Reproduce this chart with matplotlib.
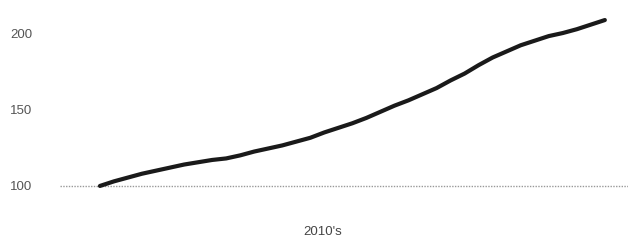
import matplotlib
matplotlib.use("Agg")
import matplotlib.pyplot as plt

# Quarterly index values, 2010 Q1 .. 2019 Q1
years = [2010 + 0.25 * k for k in range(37)]
values = [100, 103, 105.5, 108, 110, 112, 114, 115.5, 117, 118,
          120, 122.5, 124.5, 126.5, 129, 131.5, 135, 138, 141, 144.5,
          148.5, 152.5, 156, 160, 164, 169, 173.5, 179, 184, 188,
          192, 195, 198, 200, 202.5, 205.5, 208.5]
y_ticks = [100, 150, 200]
x_label = "2010's"
baseline = 100

plt.rcParams['font.family'] = ['Liberation Sans', 'DejaVu Sans']
fig = plt.figure(figsize=(6.31, 2.41), dpi=100)
ax = fig.add_axes([0.095, 0.191, 0.90, 0.788])

ax.axhline(baseline, color='#999999', lw=1.0, ls=(0, (1, 1)), zorder=1)
ax.plot(years, values, color='#1a1a1a', lw=3.0, solid_capstyle='round', zorder=2)

ax.set_xlim(2009.287, 2019.41)
ax.set_ylim(94.1, 218.3)
ax.set_yticks(y_ticks)
ax.set_yticklabels([str(t) for t in y_ticks], fontsize=9.5, color='#555555')
ax.tick_params(axis='y', length=0, pad=20)
ax.set_xticks([])
for s in ax.spines.values():
    s.set_visible(False)

fig.text(323 / 631, 1 - 232 / 241, x_label, ha='center', va='center',
         fontsize=9.5, color='#444444')

fig.savefig('out.png', dpi=100)
